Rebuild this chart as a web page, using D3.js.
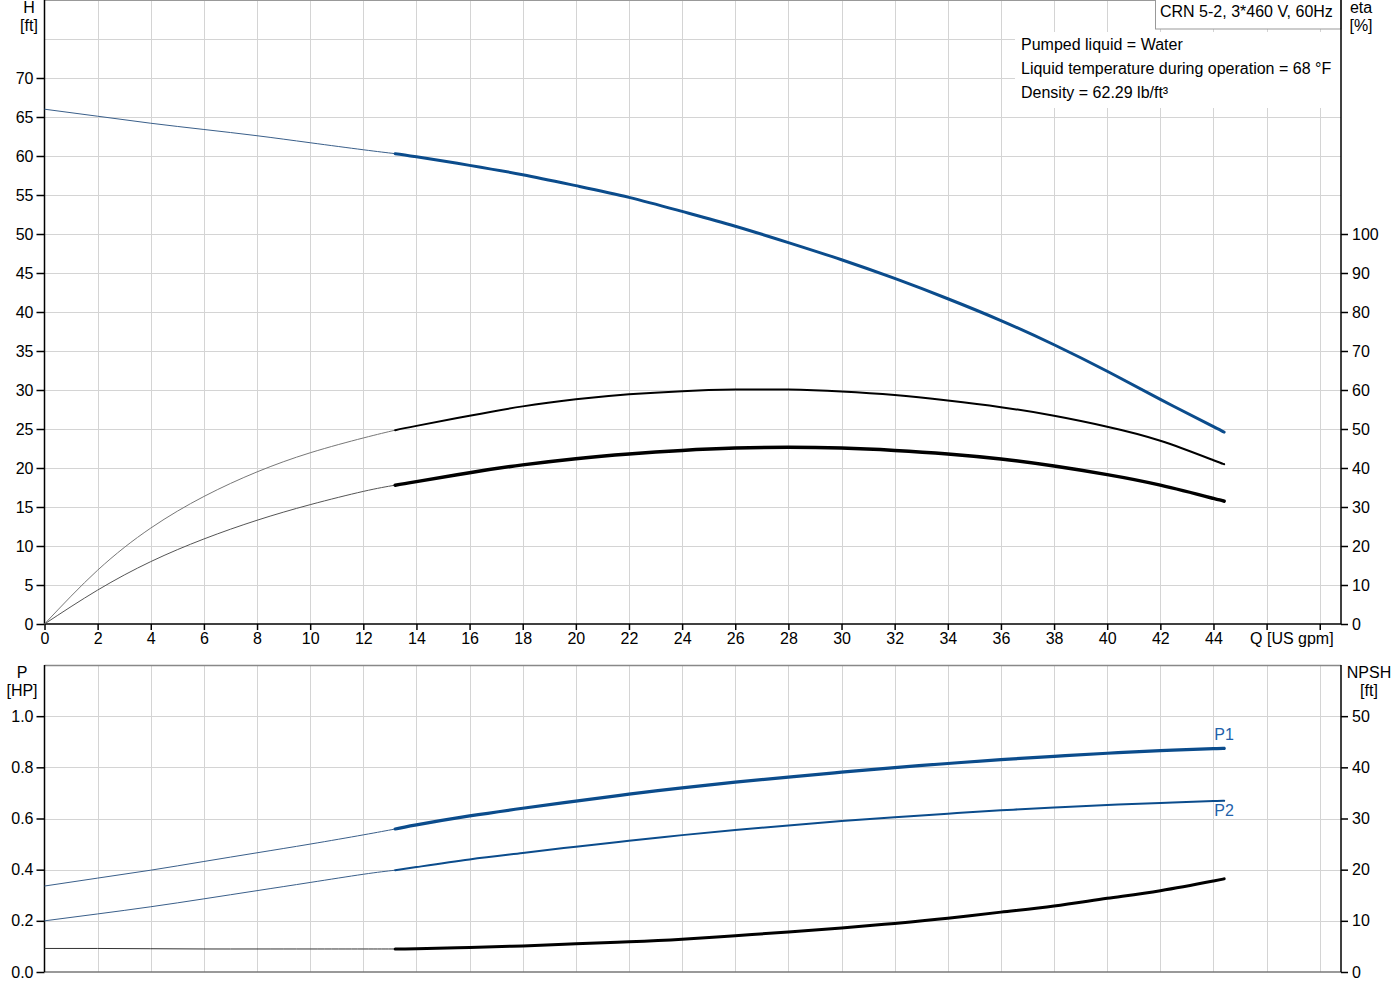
<!DOCTYPE html>
<html>
<head>
    <meta charset="utf-8">
    <title>CRN 5-2 pump curves</title>
    <style>
        body { margin: 0; background: #fff; }
        svg { font-family: Arial, "Liberation Sans", sans-serif; }
        .grid line { stroke: #d4d4d4; stroke-width: 1.2px; shape-rendering: crispEdges; }
        .axis path, .axis line { stroke: #000; stroke-width: 1.5px; }
        .axis text { font-size: 16px; fill: #000; }
        .unit { font-size: 16px; fill: #000; }
    </style>
</head>
<body>
    <div class="viz"></div>
    <script src="https://cdnjs.cloudflare.com/ajax/libs/d3/7.8.5/d3.min.js"></script>
    <script>
        // flow points, US gpm (thin part up to 13.2, thick part after)
        var flow = [0, 2, 4, 6, 8, 10, 12, 13.2, 14, 16, 18, 20, 22, 24, 26, 28, 30, 32, 34, 36, 38, 40, 42, 44, 44.4];
        var splitAt = 7; // index of 13.2

        // head, ft
        var head = [66.0, 65.1, 64.2, 63.4, 62.6, 61.7, 60.8, 60.3, 59.9, 58.8, 57.6, 56.2, 54.7, 52.9, 51.0, 48.9, 46.7, 44.3, 41.7, 38.9, 35.8, 32.4, 28.8, 25.3, 24.6];
        // efficiency, %
        var etaUpper = [0, 13.8, 24.6, 32.7, 39.0, 43.9, 47.7, 49.7, 50.8, 53.4, 55.8, 57.6, 58.9, 59.7, 60.1, 60.1, 59.6, 58.7, 57.3, 55.6, 53.4, 50.6, 47.0, 42.0, 41.0];
        var etaLower = [0, 8.7, 16.0, 21.8, 26.6, 30.6, 34.0, 35.6, 36.5, 38.8, 40.8, 42.4, 43.6, 44.5, 45.1, 45.3, 45.1, 44.5, 43.6, 42.3, 40.5, 38.3, 35.6, 32.2, 31.5];
        // power, HP
        var powerP1 = [0.336, 0.367, 0.398, 0.432, 0.466, 0.500, 0.536, 0.559, 0.575, 0.610, 0.640, 0.668, 0.695, 0.720, 0.742, 0.762, 0.781, 0.799, 0.815, 0.830, 0.843, 0.855, 0.865, 0.873, 0.874];
        var powerP2 = [0.200, 0.227, 0.255, 0.286, 0.318, 0.350, 0.382, 0.398, 0.410, 0.440, 0.465, 0.490, 0.513, 0.535, 0.555, 0.573, 0.590, 0.605, 0.619, 0.632, 0.643, 0.653, 0.661, 0.668, 0.669];
        // NPSH, ft
        var npsh = [4.6, 4.6, 4.55, 4.5, 4.5, 4.5, 4.5, 4.5, 4.55, 4.8, 5.1, 5.5, 5.9, 6.4, 7.1, 7.8, 8.6, 9.5, 10.5, 11.7, 12.9, 14.4, 15.9, 17.8, 18.2];

        // ticks
        var qTicks = d3.range(0, 49, 2);
        var hTicks = d3.range(0, 71, 5);
        var etaTicks = d3.range(0, 101, 10);
        var pTicks = [0, 0.2, 0.4, 0.6, 0.8, 1.0];
        var npshTicks = [0, 10, 20, 30, 40, 50];

        var infoLines = ["Pumped liquid = Water", "Liquid temperature during operation = 68 \u00b0F", "Density = 62.29 lb/ft\u00b3"];
        var title = "CRN 5-2, 3*460 V, 60Hz";

        var blue = "#0b4c8c";

        var left = 44.5, right = 1341;
        var topY0 = 0, topY1 = 624;
        var botY0 = 665, botY1 = 972;

        var svg = d3.select('.viz').append('svg')
            .attr('width', 1400)
            .attr('height', 1000);

        var x = d3.scaleLinear().domain([0, 48.8]).range([left, right]);
        var yH = d3.scaleLinear().domain([0, 80]).range([topY1, topY0]);
        var yEta = d3.scaleLinear().domain([0, 160]).range([topY1, topY0]);
        var yP = d3.scaleLinear().domain([0, 1.2]).range([botY1, botY0]);
        var yN = d3.scaleLinear().domain([0, 60]).range([botY1, botY0]);

        // grids
        function drawGrid(y, yTicks, y0, y1) {
            var g = svg.append('g').attr('class', 'grid');
            g.selectAll('.v').data(qTicks.slice(1)).enter().append('line')
                .attr('x1', function (d) { return Math.round(x(d)) + 0.5; })
                .attr('x2', function (d) { return Math.round(x(d)) + 0.5; })
                .attr('y1', y0).attr('y2', y1);
            g.selectAll('.h').data(yTicks).enter().append('line')
                .attr('x1', left).attr('x2', right)
                .attr('y1', function (d) { return Math.round(y(d)) + 0.5; })
                .attr('y2', function (d) { return Math.round(y(d)) + 0.5; });
        }
        drawGrid(yH, d3.range(5, 81, 5), topY0, topY1);
        drawGrid(yP, [0.2, 0.4, 0.6, 0.8, 1.0], botY0, botY1);

        // frame lines
        svg.append('line').attr('x1', left).attr('x2', right).attr('y1', 0.5).attr('y2', 0.5)
            .attr('stroke', '#999').attr('stroke-width', 1);
        svg.append('line').attr('x1', left).attr('x2', right).attr('y1', botY0 + 0.5).attr('y2', botY0 + 0.5)
            .attr('stroke', '#888').attr('stroke-width', 1.5);
        svg.append('line').attr('x1', left).attr('x2', right).attr('y1', botY1).attr('y2', botY1)
            .attr('stroke', '#777').attr('stroke-width', 1.5);

        // info box and title box
        svg.append('rect').attr('x', 1015).attr('y', 32).attr('width', right - 1015).attr('height', 76)
            .attr('fill', '#fff');
        svg.append('rect').attr('x', 1155.5).attr('y', -1).attr('width', right - 1155.5).attr('height', 30)
            .attr('fill', '#fff').attr('stroke', '#999').attr('stroke-width', 1);
        svg.append('text').attr('x', 1160).attr('y', 17).attr('font-size', '16px').text(title);
        svg.selectAll('.info').data(infoLines).enter().append('text')
            .attr('x', 1021)
            .attr('y', function (d, i) { return 50 + i * 24; })
            .attr('font-size', '16px')
            .text(function (d) { return d; });

        // axes
        svg.append('g').attr('class', 'axis')
            .attr('transform', 'translate(' + left + ',0)')
            .call(d3.axisLeft(yH).tickValues(hTicks).tickSize(8).tickPadding(3).tickSizeOuter(0))
            .select('.domain').attr('d', 'M0,' + topY0 + 'V' + topY1);

        svg.append('g').attr('class', 'axis')
            .attr('transform', 'translate(' + right + ',0)')
            .call(d3.axisRight(yEta).tickValues(etaTicks).tickSize(7).tickPadding(4).tickSizeOuter(0))
            .select('.domain').attr('d', 'M0,' + topY0 + 'V' + topY1);

        var xAxis = svg.append('g').attr('class', 'axis')
            .attr('transform', 'translate(0,' + topY1 + ')')
            .call(d3.axisBottom(x).tickValues(qTicks).tickSize(6).tickPadding(3).tickSizeOuter(0)
                .tickFormat(function (d) { return d > 44 ? '' : d; }));
        xAxis.select('.domain').attr('d', 'M' + left + ',0H' + right);

        svg.append('text').attr('class', 'unit')
            .attr('x', x(46.95)).attr('y', 644).attr('text-anchor', 'middle')
            .text('Q [US gpm]');

        svg.append('g').attr('class', 'axis')
            .attr('transform', 'translate(' + left + ',0)')
            .call(d3.axisLeft(yP).tickValues(pTicks).tickFormat(d3.format('.1f')).tickSize(8).tickPadding(3).tickSizeOuter(0))
            .select('.domain').attr('d', 'M0,' + botY0 + 'V' + botY1);

        svg.append('g').attr('class', 'axis')
            .attr('transform', 'translate(' + right + ',0)')
            .call(d3.axisRight(yN).tickValues(npshTicks).tickSize(7).tickPadding(4).tickSizeOuter(0))
            .select('.domain').attr('d', 'M0,' + botY0 + 'V' + botY1);

        // unit labels
        function unitLabel(cx, y, lines) {
            svg.append('text').attr('class', 'unit')
                .attr('text-anchor', 'middle')
                .selectAll('tspan').data(lines).enter().append('tspan')
                .attr('x', cx)
                .attr('y', function (d, i) { return y + i * 18; })
                .text(function (d) { return d; });
        }
        unitLabel(29, 13, ['H', '[ft]']);
        unitLabel(1361, 13, ['eta', '[%]']);
        unitLabel(22, 678, ['P', '[HP]']);
        unitLabel(1369, 678, ['NPSH', '[ft]']);

        // curves
        function drawCurve(values, y, color, thinColor, thick) {
            var pts = flow.map(function (q, i) { return [q, values[i]]; });
            var line = d3.line()
                .x(function (d) { return x(d[0]); })
                .y(function (d) { return y(d[1]); })
                .curve(d3.curveNatural);
            svg.append('path')
                .datum(pts.slice(0, splitAt + 1))
                .attr('d', line)
                .attr('fill', 'none')
                .attr('stroke', thinColor)
                .attr('stroke-width', 1);
            svg.append('path')
                .datum(pts.slice(splitAt))
                .attr('d', line)
                .attr('fill', 'none')
                .attr('stroke', color)
                .attr('stroke-width', thick)
                .attr('stroke-linecap', 'round');
        }

        drawCurve(head, yH, blue, '#3a5f8a', 3);
        drawCurve(etaUpper, yEta, '#000', '#777', 2);
        drawCurve(etaLower, yEta, '#000', '#555', 3.5);
        drawCurve(powerP1, yP, blue, '#3a5f8a', 3.2);
        drawCurve(powerP2, yP, blue, '#3a5f8a', 2);
        drawCurve(npsh, yN, '#000', '#333', 3);

        var last = flow.length - 1;
        svg.append('text').attr('x', x(flow[last])).attr('y', yP(powerP1[last]) - 8)
            .attr('text-anchor', 'middle').attr('font-size', '16px').attr('fill', '#1f62aa').text('P1');
        svg.append('text').attr('x', x(flow[last])).attr('y', yP(powerP2[last]) + 15)
            .attr('text-anchor', 'middle').attr('font-size', '16px').attr('fill', '#1f62aa').text('P2');
    </script>
</body>
</html>
